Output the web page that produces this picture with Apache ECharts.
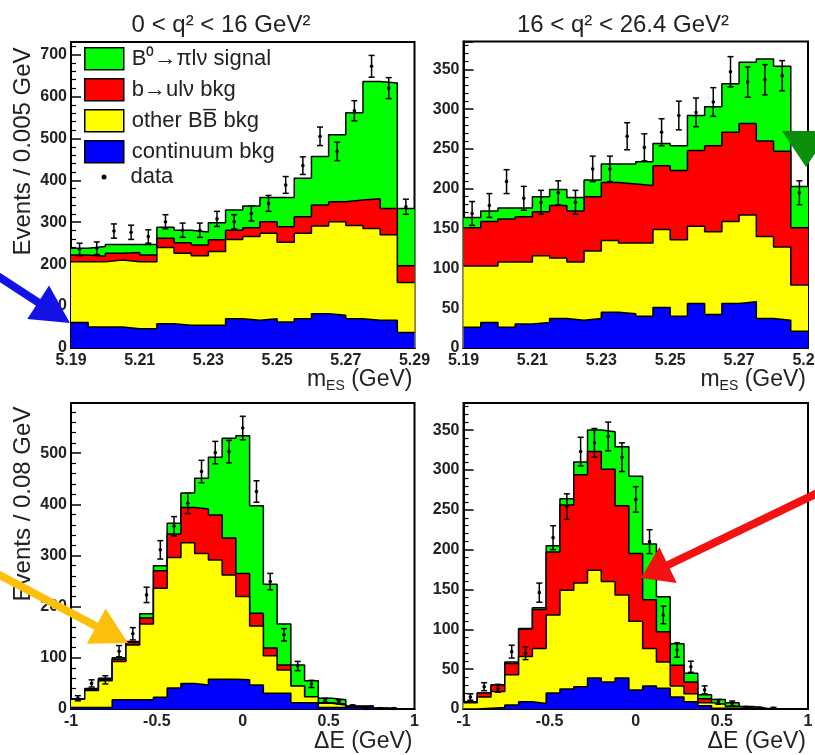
<!DOCTYPE html>
<html>
<head>
<meta charset="utf-8">
<script src="https://cdn.jsdelivr.net/npm/echarts@6/dist/echarts.min.js"></script>
<style>html,body{margin:0;padding:0;background:#fff}#c{width:815px;height:755px}</style>
</head>
<body>
<div id="c"></div>
<script>
// ---------------- DATA ----------------
const mesEdges = [5.19,5.195,5.2,5.205,5.21,5.215,5.22,5.225,5.23,5.235,5.24,5.245,5.25,5.255,5.26,5.265,5.27,5.275,5.28,5.285,5.29];
const deEdges = [-1,-0.92,-0.84,-0.76,-0.68,-0.6,-0.52,-0.44,-0.36,-0.28,-0.2,-0.12,-0.04,0.04,0.12,0.2,0.28,0.36,0.44,0.52,0.6,0.68,0.76,0.84,0.92,1];

const componentNames = ['continuum bkg', 'other BB\u0305 bkg', 'b\u2192ul\u03bd bkg', 'B\u2070\u2192\u03c0l\u03bd signal'];
const dataName = 'data';
const panelTitles = ['0 < q\u00b2 < 16 GeV\u00b2', '16 < q\u00b2 < 26.4 GeV\u00b2'];

// Panel 1: mES, 0 < q2 < 16
const mesLow_continuum = [61,50,50,46,46,58,54,54,54,70,66,70,62,70,82,78,70,66,66,37];
const mesLow_otherBB   = [145,156,160,160,160,182,172,166,176,189,200,204,190,204,209,223,222,219,204,119];
const mesLow_bulnu     = [16,13,16,22,16,22,25,26,28,22,21,27,37,39,50,48,61,71,63,40];
const mesLow_signal    = [16,23,21,19,25,26,30,31,41,48,52,58,70,92,116,160,208,280,299,137];
const mesLow_data      = [235,238,279,276,266,301,281,281,308,301,321,345,389,435,505,469,566,672,620,337];
const mesLow_err       = [15,15,17,17,16,17,17,17,18,17,18,19,20,21,22,22,24,26,25,18];

// Panel 2: mES, 16 < q2 < 26.4
const mesHigh_continuum = [26,32,26,30,32,37,35,37,45,43,40,51,40,56,42,56,58,37,35,21];
const mesHigh_otherBB   = [77,71,82,78,84,76,73,85,90,89,92,98,96,97,104,103,109,103,92,58];
const mesHigh_bulnu     = [48,56,54,57,55,66,64,68,73,74,72,80,87,95,108,112,115,120,120,72];
const mesHigh_signal    = [13,13,14,11,19,20,17,21,23,25,30,28,31,44,49,61,77,103,107,52];
const mesHigh_data      = [169,179,209,188,183,195,183,225,225,266,252,271,292,296,309,347,334,337,342,195];
const mesHigh_err       = [15,15,15,15,15,15,15,16,16,17,17,17,18,18,18,19,19,19,19,15];

// Panel 3: DeltaE, 0 < q2 < 16
const deLow_continuum = [3,3,3,18,18,18,23,41,50,47,58,58,57,47,31,31,12,12,3,3,3,5,1,0,0];
const deLow_otherBB   = [16,33,52,75,107,148,213,255,275,257,233,204,163,115,73,45,33,12,8,5,1,0,0,0,0];
const deLow_bulnu     = [0,2,3,4,5,12,34,46,69,87,88,72,45,25,15,10,0,0,1,2,1,0,0,0,0];
const deLow_signal    = [1,2,2,3,2,8,10,21,28,60,113,195,269,210,125,80,41,31,9,8,1,1,1,0,0];
const deLow_data      = [21,50,57,113,147,223,311,357,402,464,501,503,549,425,249,145,84,49,17,14,6,1,1,1,null];
const deLow_err       = [5,7,8,11,12,15,18,19,20,22,22,22,23,21,16,12,9,7,4,4,2,1,1,1,0];

// Panel 4: DeltaE, 16 < q2 < 26.4
const deHigh_continuum = [0,1,2,5,9,7,20,25,28,39,34,39,24,29,26,15,9,4,1,1,0,0,0,0,0];
const deHigh_otherBB   = [8,14,20,38,57,69,98,124,130,135,126,104,86,47,33,14,10,4,5,2,1,0,0,0,0];
const deHigh_bulnu     = [1,5,8,14,34,49,79,107,136,149,141,112,85,61,38,26,15,5,0,0,0,0,0,0,0];
const deHigh_signal    = [0,0,0,2,1,2,8,8,16,27,47,74,97,70,44,27,11,5,6,5,2,1,0,0,0];
const deHigh_data      = [15,28,26,72,70,146,215,254,323,334,342,316,263,210,118,74,53,24,9,7,2,1,1,null,null];
const deHigh_err       = [4,5,5,8,8,12,15,16,18,18,18,18,16,15,11,9,7,5,3,3,1,1,1,0,0];

// ---------------- STYLE / LAYOUT ----------------
const FONT = '"Liberation Sans", Arial, Helvetica, sans-serif';
const TXT = '#222';
const fills = ['#0000ff', '#ffff00', '#ff0000', '#00ff00'];

const mesName = '{m|m}{s|ES}{m| (GeV)}';
const deName = '\u0394E (GeV)';

const panels = [
  {grid:{left:71, top:42, width:343.5, height:306}, edges:mesEdges,
   comps:[mesLow_continuum, mesLow_otherBB, mesLow_bulnu, mesLow_signal], data:mesLow_data, err:mesLow_err,
   x:{min:5.19, max:5.29, interval:0.02, fmt:v=>v.toFixed(2), name:mesName, pad:19},
   y:{max:730, interval:100, name:'Events / 0.005 GeV', shift:87}},
  {grid:{left:463.5, top:41.5, width:344.5, height:306.5}, edges:mesEdges,
   comps:[mesHigh_continuum, mesHigh_otherBB, mesHigh_bulnu, mesHigh_signal], data:mesHigh_data, err:mesHigh_err,
   x:{min:5.19, max:5.29, interval:0.02, fmt:v=>v.toFixed(2), name:mesName, pad:19},
   y:{max:385, interval:50, name:'', shift:0}},
  {grid:{left:71, top:403, width:343.5, height:306}, edges:deEdges,
   comps:[deLow_continuum, deLow_otherBB, deLow_bulnu, deLow_signal], data:deLow_data, err:deLow_err,
   x:{min:-1, max:1, interval:0.5, fmt:v=>String(+v.toFixed(2)), name:deName, pad:21},
   y:{max:598, interval:100, name:'Events / 0.08 GeV', shift:104}},
  {grid:{left:463.5, top:403, width:344.5, height:306}, edges:deEdges,
   comps:[deHigh_continuum, deHigh_otherBB, deHigh_bulnu, deHigh_signal], data:deHigh_data, err:deHigh_err,
   x:{min:-1, max:1, interval:0.5, fmt:v=>String(+v.toFixed(2)), name:deName, pad:21},
   y:{max:384, interval:50, name:'', shift:0}}
];

function stepData(edges, vals) {
  const d = [];
  for (let i = 0; i < vals.length; i++) d.push([edges[i], vals[i]]);
  d.push([edges[vals.length], vals[vals.length - 1]]);
  return d;
}

const grids = [], xAxes = [], yAxes = [], series = [];
panels.forEach((p, k) => {
  grids.push(Object.assign({show:true, borderColor:'#000', borderWidth:2, backgroundColor:'transparent', outerBoundsMode:'none', containLabel:false}, p.grid));
  xAxes.push({
    type:'value', gridIndex:k, min:p.x.min, max:p.x.max, interval:p.x.interval,
    axisLine:{show:true, onZero:false, lineStyle:{color:'#000', width:2}},
    axisTick:{show:false}, splitLine:{show:false},
    axisLabel:{formatter:p.x.fmt, color:TXT, fontSize:16, fontWeight:'bold', fontFamily:FONT, margin:5},
    name:p.x.name, nameLocation:'end', nameGap:-2, nameMoveOverlap:false,
    nameTextStyle:{align:'right', verticalAlign:'top', padding:[p.x.pad,0,0,0], fontSize:23, color:TXT, fontFamily:FONT,
      rich:{m:{fontSize:23, color:TXT, fontFamily:FONT}, s:{fontSize:14, color:TXT, fontFamily:FONT, padding:[12,0,0,0]}}}
  });
  yAxes.push({
    type:'value', gridIndex:k, min:0, max:p.y.max, interval:p.y.interval,
    axisLine:{show:true, onZero:false, lineStyle:{color:'#000', width:2}},
    axisTick:{show:true, inside:true, length:10, lineStyle:{color:'#000', width:1.5}},
    minorTick:{show:true, splitNumber:5, length:5, lineStyle:{color:'#000', width:1.2}},
    splitLine:{show:false}, minorSplitLine:{show:false},
    axisLabel:{color:TXT, fontSize:16, fontWeight:'bold', fontFamily:FONT, margin:4, showMaxLabel:false},
    name:p.y.name, nameLocation:'middle', nameGap:36, nameMoveOverlap:false,
    nameTextStyle:{fontSize:24, color:TXT, fontFamily:FONT, padding:[0,0,0,p.y.shift]}
  });
  // cumulative stacks
  const cum = [];
  let run = p.comps[0].map(() => 0);
  p.comps.forEach(c => { run = run.map((v, i) => v + c[i]); cum.push(run); });
  for (let j = 3; j >= 0; j--) {
    series.push({
      type:'line', name:componentNames[j], xAxisIndex:k, yAxisIndex:k,
      data:stepData(p.edges, cum[j]), step:'end', symbol:'none', color:fills[j],
      lineStyle:{color:'#000', width:1.5}, areaStyle:{color:fills[j], opacity:1}, z:2 + (3 - j) * 0.01
    });
  }
  const pts = [];
  p.data.forEach((v, i) => { if (v != null) pts.push([(p.edges[i] + p.edges[i + 1]) / 2, v, p.err[i]]); });
  series.push({
    type:'custom', name:dataName, xAxisIndex:k, yAxisIndex:k, data:pts, z:5, color:'#000',
    encode:{x:0, y:1},
    renderItem:(params, api) => {
      const x = api.value(0), y = api.value(1), e = api.value(2);
      const c = api.coord([x, y]), t = api.coord([x, y + e]), b = api.coord([x, y - e]);
      const ch = [];
      if (e > 0) {
        ch.push({type:'line', shape:{x1:c[0], y1:t[1], x2:c[0], y2:b[1]}, style:{stroke:'#000', lineWidth:1.5}});
        ch.push({type:'line', shape:{x1:c[0]-3, y1:t[1], x2:c[0]+3, y2:t[1]}, style:{stroke:'#000', lineWidth:1.5}});
        ch.push({type:'line', shape:{x1:c[0]-3, y1:b[1], x2:c[0]+3, y2:b[1]}, style:{stroke:'#000', lineWidth:1.5}});
      }
      ch.push({type:'circle', shape:{cx:c[0], cy:c[1], r:1.8}, style:{fill:'#000'}});
      return {type:'group', children:ch};
    }
  });
});

function arrow(tail, tip, shaftW, headL, headW) {
  const dx = tip[0] - tail[0], dy = tip[1] - tail[1], L = Math.hypot(dx, dy);
  const ux = dx / L, uy = dy / L, px = -uy, py = ux;
  const bx = tip[0] - ux * headL, by = tip[1] - uy * headL;
  return [
    [tail[0] + px * shaftW / 2, tail[1] + py * shaftW / 2],
    [bx + px * shaftW / 2, by + py * shaftW / 2],
    [bx + px * headW / 2, by + py * headW / 2],
    tip,
    [bx - px * headW / 2, by - py * headW / 2],
    [bx - px * shaftW / 2, by - py * shaftW / 2],
    [tail[0] - px * shaftW / 2, tail[1] - py * shaftW / 2]
  ];
}

const option = {
  animation:false,
  backgroundColor:'#fff',
  textStyle:{fontFamily:FONT},
  title:[
    {text:panelTitles[0], left:221, top:13, textAlign:'center', padding:0, textStyle:{fontSize:24, fontWeight:'normal', color:TXT, fontFamily:FONT}},
    {text:panelTitles[1], left:623, top:13, textAlign:'center', padding:0, textStyle:{fontSize:24, fontWeight:'normal', color:TXT, fontFamily:FONT}}
  ],
  legend:[
    {orient:'vertical', left:84, top:47, padding:0, itemWidth:39, itemHeight:22, itemGap:7.5, selectedMode:false,
     textStyle:{fontSize:22, color:TXT, fontFamily:FONT, lineHeight:22, padding:[0,0,0,3]},
     data:[
       {name:componentNames[3], icon:'rect', itemStyle:{color:fills[3], borderColor:'#000', borderWidth:1.5}},
       {name:componentNames[2], icon:'rect', itemStyle:{color:fills[2], borderColor:'#000', borderWidth:1.5}},
       {name:componentNames[1], icon:'rect', itemStyle:{color:fills[1], borderColor:'#000', borderWidth:1.5}},
       {name:componentNames[0], icon:'rect', itemStyle:{color:fills[0], borderColor:'#000', borderWidth:1.5}}
     ]},
    {orient:'vertical', left:101.5, top:166, padding:0, itemWidth:5, itemHeight:5, selectedMode:false,
     textStyle:{fontSize:22, color:TXT, fontFamily:FONT, lineHeight:22, padding:[0,0,0,19]},
     data:[{name:dataName, icon:'circle', itemStyle:{color:'#000', borderWidth:0}}]}
  ],
  grid:grids, xAxis:xAxes, yAxis:yAxes, series:series,
  graphic:[
    {type:'polygon', z:100, shape:{points:arrow([-10,271],[70,323],8,38,40)}, style:{fill:'#1212e6'}},
    {type:'polygon', z:100, shape:{points:arrow([-10,570],[128,643],8,36,40)}, style:{fill:'#fcc00c'}},
    {type:'polygon', z:100, shape:{points:arrow([830,487],[641,578],8,30,40)}, style:{fill:'#f21212'}},
    {type:'polygon', z:100, shape:{points:[[782,131],[830,131],[806,167]]}, style:{fill:'#0b8f0b'}}
  ]
};

const chart = echarts.init(document.getElementById('c'), null, {renderer:'canvas'});
chart.setOption(option);
</script>
</body>
</html>
